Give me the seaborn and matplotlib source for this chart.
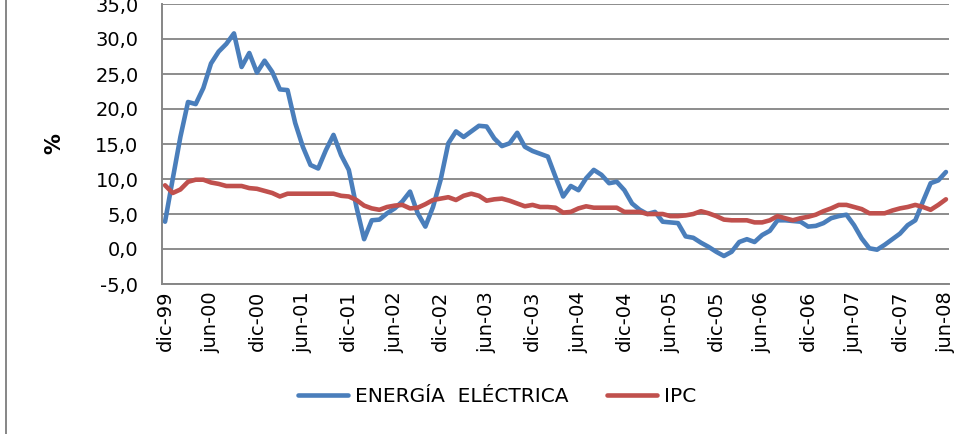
import numpy as np
import pandas as pd
import matplotlib
import matplotlib.pyplot as plt
import seaborn as sns
from matplotlib.lines import Line2D

matplotlib.use('Agg')

# monthly values, dic-99 .. jun-08
energia = [3.9, 10.0, 16.0, 21.0, 20.7, 23.0, 26.5, 28.2, 29.3, 30.8,
           26.0, 28.0, 25.2, 26.9, 25.3, 22.8, 22.7, 18.0, 14.6, 12.0,
           11.5, 14.1, 16.3, 13.4, 11.3, 6.0, 1.4, 4.1, 4.2, 5.1,
           5.8, 6.8, 8.2, 5.1, 3.2, 6.0, 9.9, 15.1, 16.8, 16.0,
           16.8, 17.6, 17.5, 15.8, 14.7, 15.1, 16.6, 14.6, 14.0, 13.6,
           13.2, 10.3, 7.5, 9.0, 8.4, 10.1, 11.3, 10.6, 9.4, 9.6,
           8.4, 6.5, 5.6, 5.0, 5.3, 3.9, 3.8, 3.7, 1.8, 1.6,
           0.9, 0.3, -0.4, -1.0, -0.4, 1.0, 1.4, 1.0, 2.0, 2.6,
           4.1, 4.1, 4.0, 3.9, 3.2, 3.3, 3.7, 4.4, 4.7, 4.9,
           3.4, 1.5, 0.1, -0.1, 0.6, 1.4, 2.2, 3.4, 4.1, 6.8,
           9.4, 9.8, 11.0]
ipc = [9.1, 8.0, 8.5, 9.6, 9.9, 9.9, 9.5, 9.3, 9.0, 9.0,
       9.0, 8.7, 8.6, 8.3, 8.0, 7.5, 7.9, 7.9, 7.9, 7.9,
       7.9, 7.9, 7.9, 7.6, 7.5, 7.0, 6.2, 5.8, 5.6, 6.0,
       6.2, 6.3, 5.8, 5.9, 6.4, 7.0, 7.2, 7.4, 7.0, 7.6,
       7.9, 7.6, 6.9, 7.1, 7.2, 6.9, 6.5, 6.1, 6.3, 6.0,
       6.0, 5.9, 5.2, 5.3, 5.8, 6.1, 5.9, 5.9, 5.9, 5.9,
       5.3, 5.3, 5.3, 5.0, 5.0, 5.0, 4.7, 4.7, 4.8, 5.0,
       5.4, 5.1, 4.7, 4.2, 4.1, 4.1, 4.1, 3.8, 3.8, 4.1,
       4.7, 4.4, 4.1, 4.4, 4.6, 4.9, 5.4, 5.8, 6.3, 6.3,
       6.0, 5.7, 5.1, 5.1, 5.1, 5.5, 5.8, 6.0, 6.3, 6.0,
       5.6, 6.3, 7.1]
tick_labels = ['dic-99', 'jun-00', 'dic-00', 'jun-01', 'dic-01', 'jun-02',
               'dic-02', 'jun-03', 'dic-03', 'jun-04', 'dic-04', 'jun-05',
               'dic-05', 'jun-06', 'dic-06', 'jun-07', 'dic-07', 'jun-08']
y_ticks = [-5, 0, 5, 10, 15, 20, 25, 30, 35]

sns.set_style('white')
plt.rcParams['font.family'] = ['DejaVu Sans']
plt.rcParams['text.color'] = 'black'
plt.rcParams['xtick.color'] = 'black'
plt.rcParams['ytick.color'] = 'black'
plt.rcParams['axes.labelcolor'] = 'black'

idx = np.arange(len(energia))
df = pd.DataFrame({'mes': np.concatenate([idx, idx]),
                   'valor': energia + ipc,
                   'serie': ['ENERGÍA  ELÉCTRICA'] * len(energia) + ['IPC'] * len(ipc)})

fig = plt.figure(figsize=(9.66, 4.34), dpi=100)
ax = fig.add_axes([162 / 966, 1 - 284 / 434, (949 - 162) / 966, 280 / 434])

sns.lineplot(data=df, x='mes', y='valor', hue='serie',
             palette=['#4A7EBB', '#C0504D'], linewidth=3.3, ax=ax, legend=False)

ax.set_xlim(-0.4, 102.4)
ax.set_ylim(-5, 35)
ax.set_yticks(y_ticks)
ax.set_yticklabels([f'{v:.1f}'.replace('.', ',') for v in y_ticks], fontsize=14)
ax.set_xticks(idx[::6])
ax.set_xticklabels(tick_labels, rotation=90, fontsize=14)
ax.tick_params(axis='x', direction='inout', length=8, color='#868686', pad=1)
ax.tick_params(axis='y', length=0, pad=17)
ax.grid(axis='y', color='#8c8c8c', linewidth=1.4)
ax.set_axisbelow(True)
for s in ['top', 'right']:
    ax.spines[s].set_visible(False)
for s in ['left', 'bottom']:
    ax.spines[s].set_color('#868686')
    ax.spines[s].set_linewidth(1.4)
ax.set_xlabel('')
ax.set_ylabel('%', fontsize=15, fontweight='bold', labelpad=22)

# legend
handles = [Line2D([], [], color='#4A7EBB', linewidth=3.3),
           Line2D([], [], color='#C0504D', linewidth=3.3)]
fig.legend(handles, ['ENERGÍA  ELÉCTRICA', 'IPC'], loc='center',
           bbox_to_anchor=(497 / 966, 1 - 397 / 434), ncol=2, frameon=False,
           handlelength=2.5, columnspacing=1.9, handletextpad=0.35,
           prop={'family': ['DejaVu Sans'], 'size': 14.5})

# chart area border on the left
fig.add_artist(Line2D([6 / 966, 6 / 966], [0, 1], color='#868686', linewidth=1.4))

fig.savefig('out.png', dpi=100)
plt.close('all')
